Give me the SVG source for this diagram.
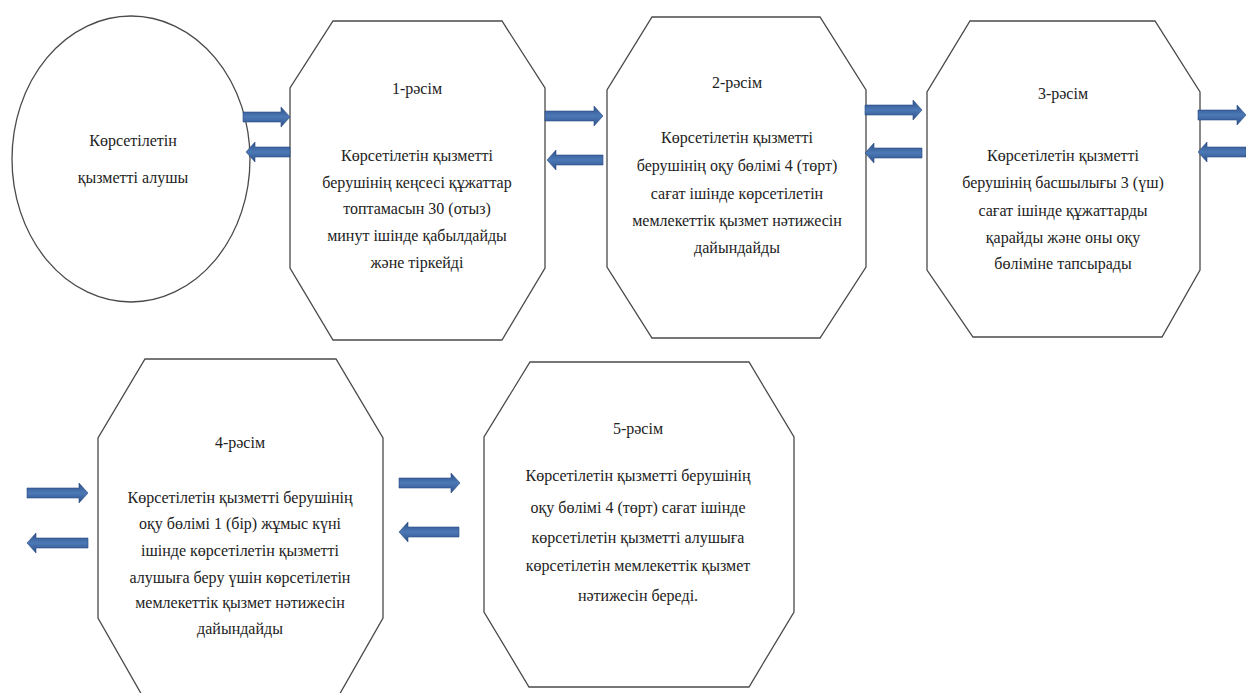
<svg xmlns="http://www.w3.org/2000/svg" width="1246" height="693" viewBox="0 0 1246 693">
<defs>
<linearGradient id="ag" x1="0" y1="0" x2="0" y2="1">
<stop offset="0" stop-color="#2C4F88"/>
<stop offset="0.5" stop-color="#4C79B6"/>
<stop offset="1" stop-color="#2C4F88"/>
</linearGradient>
<style>
.shape{fill:#fff;stroke:#4a4a4a;stroke-width:1.3}
.t{font-size:16px;fill:#222;text-anchor:middle}
.arr{fill:url(#ag);stroke:#2B4C80;stroke-width:0.6}
</style>
</defs>
<rect width="1246" height="693" fill="#fff"/>
<g font-family="Liberation Serif, DejaVu Serif, serif">
<g id="node-recipient">
<ellipse class="shape" cx="131" cy="159" rx="119" ry="143"/>
<text class="t" x="133" y="146">Көрсетілетін</text>
<text class="t" x="133" y="183">қызметті алушы</text>
</g>
<g id="node-step1">
<polygon class="shape" points="333,21 502,21 545,88 545,268 502,340 333,340 290,268 290,88"/>
<text class="t" x="417" y="94">1-рәсім</text>
<text class="t" x="417" y="161">Көрсетілетін қызметті</text>
<text class="t" x="417" y="188">берушінің кеңсесі құжаттар</text>
<text class="t" x="417" y="214">топтамасын 30 (отыз)</text>
<text class="t" x="417" y="241">минут ішінде қабылдайды</text>
<text class="t" x="417" y="268">және тіркейді</text>
</g>
<g id="node-step2">
<polygon class="shape" points="652,17 820,17 866,90 866,267 820,338 652,338 607,267 607,90"/>
<text class="t" x="737" y="88">2-рәсім</text>
<text class="t" x="737" y="143">Көрсетілетін қызметті</text>
<text class="t" x="737" y="171">берушінің оқу бөлімі 4 (төрт)</text>
<text class="t" x="737" y="199">сағат ішінде көрсетілетін</text>
<text class="t" x="737" y="226">мемлекеттік  қызмет нәтижесін</text>
<text class="t" x="737" y="253">дайындайды</text>
</g>
<g id="node-step3">
<polygon class="shape" points="970,21 1155,21 1200,92 1200,270 1162,337 973,337 927,270 927,92"/>
<text class="t" x="1063" y="99">3-рәсім</text>
<text class="t" x="1063" y="161">Көрсетілетін қызметті</text>
<text class="t" x="1063" y="188">берушінің басшылығы 3 (үш)</text>
<text class="t" x="1063" y="216">сағат ішінде құжаттарды</text>
<text class="t" x="1063" y="243">қарайды және оны оқу</text>
<text class="t" x="1063" y="269">бөліміне тапсырады</text>
</g>
<g id="node-step4">
<polygon class="shape" points="145,359 336,359 383,438 383,618 338,697 143,697 98,618 98,438"/>
<text class="t" x="240" y="448">4-рәсім</text>
<text class="t" x="240" y="503">Көрсетілетін қызметті берушінің</text>
<text class="t" x="240" y="529">оқу бөлімі 1 (бір) жұмыс күні</text>
<text class="t" x="240" y="556">ішінде көрсетілетін қызметті</text>
<text class="t" x="240" y="583">алушыға беру үшін көрсетілетін</text>
<text class="t" x="240" y="608">мемлекеттік қызмет нәтижесін</text>
<text class="t" x="240" y="634">дайындайды</text>
</g>
<g id="node-step5">
<polygon class="shape" points="530,362 749,362 794,437 794,612 749,687 529,687 484,612 484,437"/>
<text class="t" x="638" y="434">5-рәсім</text>
<text class="t" x="638" y="481">Көрсетілетін қызметті берушінің</text>
<text class="t" x="638" y="513">оқу бөлімі 4 (төрт) сағат ішінде</text>
<text class="t" x="638" y="543">көрсетілетін қызметті алушыға</text>
<text class="t" x="638" y="571">көрсетілетін мемлекеттік қызмет</text>
<text class="t" x="638" y="601">нәтижесін береді.</text>
</g>
</g>
<g id="connectors">
<path class="arr" d="M243,112 H281 V107 L290,117 L281,127 V122 H243 Z"/>
<path class="arr" d="M290,147 H255 V142 L246,152 L255,162 V157 H290 Z"/>
<path class="arr" d="M545,111 H594 V106 L603,116 L594,126 V121 H545 Z"/>
<path class="arr" d="M603,155 H556 V150 L547,160 L556,170 V165 H603 Z"/>
<path class="arr" d="M865,105 H913 V100 L922,110 L913,120 V115 H865 Z"/>
<path class="arr" d="M922,148 H874 V143 L865,153 L874,163 V158 H922 Z"/>
<path class="arr" d="M1198,110 H1237 V105 L1246,115 L1237,125 V120 H1198 Z"/>
<path class="arr" d="M1246,147 H1207 V142 L1198,152 L1207,162 V157 H1246 Z"/>
<path class="arr" d="M27,488 H79 V483 L88,493 L79,503 V498 H27 Z"/>
<path class="arr" d="M88,538 H36 V533 L27,543 L36,553 V548 H88 Z"/>
<path class="arr" d="M399,478 H451 V473 L460,483 L451,493 V488 H399 Z"/>
<path class="arr" d="M459,527 H408 V522 L399,532 L408,542 V537 H459 Z"/>
</g>
</svg>
